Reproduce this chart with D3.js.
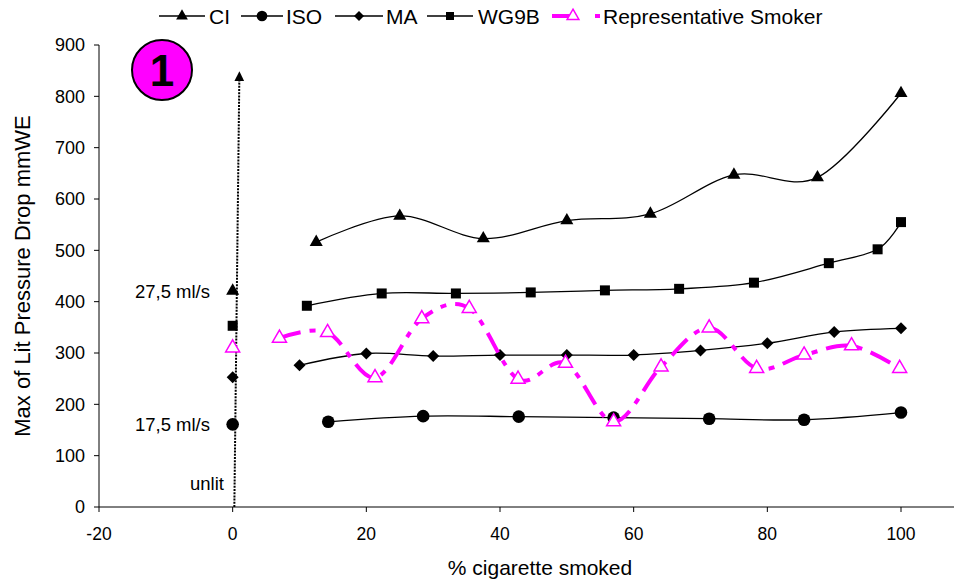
<!DOCTYPE html>
<html>
<head>
<meta charset="utf-8">
<script src="https://cdn.jsdelivr.net/npm/d3@7"></script>
<style>
  body { margin: 0; background: #fff; }
  text { font-family: "Liberation Sans", Arial, sans-serif; fill: #000; }
</style>
</head>
<body>
<div id="chart"></div>
<script>
// series: [% smoked, pressure drop]
const ciData = [[12.5,516],[25,567],[37.5,523],[50,558],[62.5,571],[75,647],[87.5,642],[100,806]];
const isoData = [[14.3,166],[28.5,177],[42.8,176],[57,174],[71.3,172],[85.5,170],[100,184]];
const maData = [[10,276],[20,299],[30,294],[40,296],[50,296],[60,296],[70,305],[80,319],[90,341],[100,348]];
const wg9bData = [[11.1,392],[22.3,416],[33.4,416],[44.6,418],[55.7,422],[66.8,425],[78,437],[89.2,475],[96.5,502],[100,555]];
const repData = [[7,329],[14.2,340],[21.3,252],[28.3,367],[35.4,387],[42.7,249],[49.8,280],[57,166],[64.1,273],[71.3,349],[78.4,270],[85.5,296],[92.6,314],[99.8,270]];

// unlit puffs at x = 0
const unlitPoints = [
  {series:"CI", value:421},
  {series:"WG9B", value:353},
  {series:"Rep", value:310},
  {series:"MA", value:253},
  {series:"ISO", value:161}
];

const arrowLine = [[0.25,0],[1.0,839]];
const xTicks = [-20,0,20,40,60,80,100];
const yTicks = [0,100,200,300,400,500,600,700,800,900];
const notes = [
  {label:"27,5 ml/s", value:421},
  {label:"17,5 ml/s", value:161},
  {label:"unlit", value:46}
];

const width = 954, height = 581;
const svg = d3.select("#chart").append("svg")
  .attr("width", width).attr("height", height);

const x = d3.scaleLinear().domain([-20,100]).range([99,901]);
const y = d3.scaleLinear().domain([0,900]).range([507,45]);
const magenta = "#ff00ff";

// axes
const xAxis = svg.append("g").attr("transform", `translate(0,${y(0)})`);
xAxis.append("line").attr("x1", 99).attr("x2", 954).attr("stroke", "#000");
xAxis.selectAll("line.tick").data(xTicks).join("line")
  .attr("class", "tick")
  .attr("x1", d => x(d)).attr("x2", d => x(d))
  .attr("y1", 0).attr("y2", 5).attr("stroke", "#000");
xAxis.selectAll("text").data(xTicks).join("text")
  .attr("x", d => x(d)).attr("y", 33)
  .attr("text-anchor", "middle")
  .style("font-size", "17.5px")
  .text(d => d);

const yAxis = svg.append("g").attr("transform", `translate(99,0)`);
yAxis.append("line").attr("y1", y(0)).attr("y2", y(900)).attr("stroke", "#000");
yAxis.selectAll("line.tick").data(yTicks).join("line")
  .attr("class", "tick")
  .attr("x1", -5).attr("x2", 0)
  .attr("y1", d => y(d)).attr("y2", d => y(d)).attr("stroke", "#000");
yAxis.selectAll("text").data(yTicks).join("text")
  .attr("x", -14).attr("y", d => y(d))
  .attr("dy", "0.36em")
  .attr("text-anchor", "end")
  .style("font-size", "18px")
  .text(d => d);

svg.append("text")
  .attr("transform", `translate(22,${(y(0)+y(900))/2}) rotate(-90)`)
  .attr("dy", "0.36em")
  .attr("text-anchor", "middle")
  .style("font-size", "22px")
  .text("Max of Lit Pressure Drop mmWE");

svg.append("text")
  .attr("x", 540).attr("y", 575)
  .attr("text-anchor", "middle")
  .style("font-size", "21px")
  .text("% cigarette smoked");

// dotted arrow at x = 0
svg.append("defs").append("marker")
  .attr("id", "arrow")
  .attr("viewBox", "0 0 10 10")
  .attr("refX", 5).attr("refY", 5)
  .attr("markerWidth", 10).attr("markerHeight", 10)
  .attr("markerUnits", "userSpaceOnUse")
  .attr("orient", "auto")
  .append("path").attr("d", "M0,0 L10,5 L0,10 Z").attr("fill", "#000");

svg.append("line")
  .attr("x1", x(arrowLine[0][0])).attr("y1", y(arrowLine[0][1]))
  .attr("x2", x(arrowLine[1][0])).attr("y2", y(arrowLine[1][1]))
  .attr("stroke", "#000").attr("stroke-width", 2)
  .attr("stroke-dasharray", "2,1.2")
  .attr("marker-end", "url(#arrow)");

// annotations
svg.selectAll("text.note").data(notes).join("text")
  .attr("class", "note")
  .attr("x", d => d.label === "unlit" ? 224 : 210)
  .attr("y", d => y(d.value))
  .attr("dy", "0.36em")
  .attr("text-anchor", "end")
  .style("font-size", "18.5px")
  .text(d => d.label);

// marker shapes
const symbols = {
  CI: d3.symbol(d3.symbolTriangle, 74)(),
  ISO: d3.symbol(d3.symbolCircle, 125)(),
  MA: d3.symbol(d3.symbolSquare, 72)(),
  WG9B: d3.symbol(d3.symbolSquare, 100)(),
  Rep: d3.symbol(d3.symbolTriangle, 85)()
};
const rotation = s => s === "MA" ? " rotate(45)" : "";

const line = d3.line()
  .x(d => x(d[0])).y(d => y(d[1]))
  .curve(d3.curveCatmullRom.alpha(0));

const series = [
  {key:"CI", data:ciData},
  {key:"ISO", data:isoData},
  {key:"MA", data:maData},
  {key:"WG9B", data:wg9bData}
];

series.forEach(s => {
  svg.append("path")
    .attr("d", line(s.data))
    .attr("fill", "none")
    .attr("stroke", "#000")
    .attr("stroke-width", 1.3);
  svg.append("g").selectAll("path").data(s.data).join("path")
    .attr("d", symbols[s.key])
    .attr("transform", d => `translate(${x(d[0])},${y(d[1])})${rotation(s.key)}`)
    .attr("fill", "#000");
});

svg.append("path")
  .attr("d", line(repData))
  .attr("fill", "none")
  .attr("stroke", magenta)
  .attr("stroke-width", 4)
  .attr("stroke-dasharray", "22,9,6,9");
svg.append("g").selectAll("path").data(repData).join("path")
  .attr("d", symbols.Rep)
  .attr("transform", d => `translate(${x(d[0])},${y(d[1])})`)
  .attr("fill", "#fff")
  .attr("stroke", magenta)
  .attr("stroke-width", 1.5);

svg.append("g").selectAll("path").data(unlitPoints).join("path")
  .attr("d", d => symbols[d.series])
  .attr("transform", d => `translate(${x(0)},${y(d.value)})${rotation(d.series)}`)
  .attr("fill", d => d.series === "Rep" ? "#fff" : "#000")
  .attr("stroke", d => d.series === "Rep" ? magenta : "none")
  .attr("stroke-width", 1.5);

// badge
const badge = svg.append("g").attr("transform", "translate(162,70)");
badge.append("circle").attr("r", 30).attr("fill", magenta)
  .attr("stroke", "#000").attr("stroke-width", 2);
badge.append("text").attr("text-anchor", "middle").attr("dy", "0.36em")
  .style("font-size", "44px").style("font-weight", "bold").text("1");

// legend
const legendItems = [
  {key:"CI", label:"CI", x0:159, x1:205, tx:209},
  {key:"ISO", label:"ISO", x0:241, x1:283, tx:286},
  {key:"MA", label:"MA", x0:335, x1:383, tx:386},
  {key:"WG9B", label:"WG9B", x0:427, x1:473, tx:478},
  {key:"Rep", label:"Representative Smoker", x0:552, x1:600, tx:603}
];
const legend = svg.append("g").attr("transform", "translate(0,16)");
legendItems.forEach(item => {
  const mid = (item.x0 + item.x1) / 2;
  if (item.key === "Rep") {
    legend.append("line").attr("x1", item.x0).attr("x2", item.x0 + 18)
      .attr("stroke", magenta).attr("stroke-width", 4);
    legend.append("line").attr("x1", item.x1 - 5).attr("x2", item.x1)
      .attr("stroke", magenta).attr("stroke-width", 4);
    legend.append("path").attr("d", d3.symbol(d3.symbolTriangle, 60)())
      .attr("transform", `translate(${mid - 3},0)`)
      .attr("fill", "#fff").attr("stroke", magenta).attr("stroke-width", 1.5);
  } else {
    legend.append("line").attr("x1", item.x0).attr("x2", item.x1)
      .attr("stroke", "#000").attr("stroke-width", 1.5);
    legend.append("path")
      .attr("d", d3.symbol(item.key === "ISO" ? d3.symbolCircle : item.key === "CI" ? d3.symbolTriangle : d3.symbolSquare,
        item.key === "ISO" ? 90 : item.key === "CI" ? 60 : item.key === "MA" ? 50 : 64)())
      .attr("transform", `translate(${mid},0)${rotation(item.key)}`)
      .attr("fill", "#000");
  }
  legend.append("text").attr("x", item.tx).attr("dy", "0.36em")
    .style("font-size", "21px").text(item.label);
});
</script>
</body>
</html>
